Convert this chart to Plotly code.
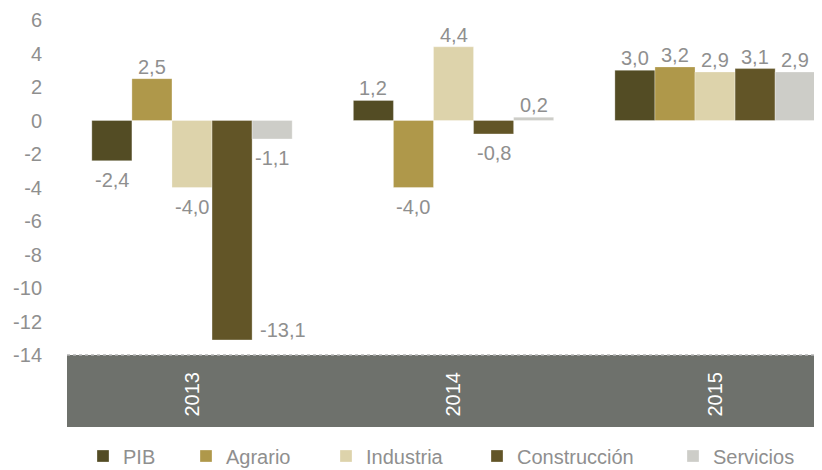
import plotly.graph_objects as go

years = ["2013", "2014", "2015"]
series = ["PIB", "Agrario", "Industria", "Construcción", "Servicios"]
pib = [-2.4, 1.2, 3.0]
agrario = [2.5, -4.0, 3.2]
industria = [-4.0, 4.4, 2.9]
construccion = [-13.1, -0.8, 3.1]
servicios = [-1.1, 0.2, 2.9]
y_ticks = [-14, -12, -10, -8, -6, -4, -2, 0, 2, 4, 6]

values = [pib, agrario, industria, construccion, servicios]
colors = ["#534c24", "#af984a", "#ddd3ab", "#625527", "#cdcdc8"]

grey = "#8f8f8f"
font = "Liberation Sans, Arial, sans-serif"
fs = 20
bargap = 0.234
n = len(series)
barw = (1 - bargap) / n

# labels that sit beside the bar instead of below it
side_labels = {("Construcción", 0)}
# left edge (px, window coords) of each legend entry's text, one small legend per series
legend_text_px = [121, 224, 364, 515, 711]

PAD = 8  # page body margin
W, H = 822 - PAD, 470 - PAD
L, R, T, B = 67 - PAD, 0, 20 - PAD, 115
pw, ph = W - L - R, H - T - B

fig = go.Figure()
annotations = []
legends = {}
for j, (name, vals, col) in enumerate(zip(series, values, colors)):
    xs = list(range(len(years)))
    lname = "legend" if j == 0 else f"legend{j + 1}"
    fig.add_trace(go.Bar(
        x=xs, y=vals, name=name, legend=lname,
        marker=dict(color=col, line=dict(width=0.6, color="rgba(255,255,255,0.5)")),
    ))
    legends[lname] = dict(
        orientation="h", x=(legend_text_px[j] - PAD - 38 - L) / pw, xanchor="left",
        y=-(456 - PAD - T - ph) / ph, yanchor="middle",
        font=dict(size=fs, color=grey, family=font), bgcolor="rgba(0,0,0,0)",
    )
    off = -(1 - bargap) / 2 + (j + 0.5) * barw
    for i, v in enumerate(vals):
        txt = f"{v:.1f}".replace(".", ",")
        if (name, i) in side_labels:
            annotations.append(dict(x=i + off + barw / 2, y=v, text=txt, showarrow=False,
                                    xanchor="left", yanchor="middle", xshift=6, yshift=10))
        elif v >= 0:
            annotations.append(dict(x=i + off, y=v, text=txt, showarrow=False,
                                    xanchor="center", yanchor="bottom", yshift=-1))
        else:
            annotations.append(dict(x=i + off, y=v, text=txt, showarrow=False,
                                    xanchor="center", yanchor="top", yshift=-6))

for a in annotations:
    a["font"] = dict(size=fs, color=grey, family=font)

fig.update_layout(
    width=W, height=H,
    margin=dict(l=L, r=R, t=T, b=B, autoexpand=False),
    plot_bgcolor="white", paper_bgcolor="white",
    barmode="group", bargap=bargap, bargroupgap=0,
    font=dict(family=font, size=fs, color=grey),
    showlegend=True,
    annotations=annotations,
    shapes=[
        dict(type="rect", xref="paper", yref="paper", x0=0, x1=1, y0=-72 / ph, y1=0,
             fillcolor="#6e716c", line=dict(width=0), layer="below"),
        dict(type="line", xref="paper", yref="paper", x0=0, x1=1, y0=0, y1=0,
             line=dict(color="#b5b5b5", width=1.5, dash="dot")),
    ],
    **legends,
)
fig.update_xaxes(
    range=[-0.478, 2.409], tickvals=[0, 1, 2], ticktext=years,
    tickangle=-90, tickfont=dict(size=fs, color="white"),
    ticklabelstandoff=12, showgrid=False, zeroline=False, showline=False, ticks="",
    automargin=False,
)
fig.update_yaxes(
    range=[-14, 6], tickvals=y_ticks, ticktext=[str(v) for v in y_ticks],
    showgrid=False, zeroline=False, showline=False,
    tickfont=dict(size=fs, color=grey), ticklabelstandoff=24, automargin=False,
)

fig.write_html("out.html")
